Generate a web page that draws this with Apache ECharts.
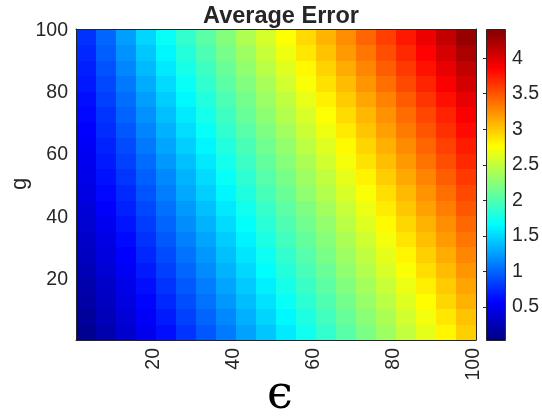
<!DOCTYPE html>
<html>
<head>
<meta charset="utf-8">
<script src="https://cdn.jsdelivr.net/npm/echarts@6/dist/echarts.min.js"></script>
<style>
  html, body { margin: 0; padding: 0; background: #ffffff; }
  #chart { width: 542px; height: 417px; }
</style>
</head>
<body>
<div id="chart"></div>
<script>
// Average error on a grid of (epsilon, g) blocks; each block spans 5 integer steps.
const epsilonBlockStart = [1, 6, 11, 16, 21, 26, 31, 36, 41, 46, 51, 56, 61, 66, 71, 76, 81, 86, 91, 96];
const gBlockStart = [1, 6, 11, 16, 21, 26, 31, 36, 41, 46, 51, 56, 61, 66, 71, 76, 81, 86, 91, 96];
const blockSpan = 5;

// avgError[i][j]: epsilon block i, g block j (g ascending)
const avgError = [
  [0.11,0.15,0.19,0.23,0.27,0.31,0.35,0.38,0.42,0.46,0.49,0.52,0.55,0.58,0.61,0.64,0.68,0.71,0.75,0.79],
  [0.24,0.28,0.31,0.35,0.39,0.43,0.47,0.52,0.57,0.61,0.65,0.69,0.73,0.77,0.80,0.85,0.89,0.93,0.98,1.02],
  [0.37,0.41,0.45,0.49,0.53,0.58,0.62,0.67,0.72,0.76,0.81,0.86,0.90,0.95,1.00,1.05,1.10,1.16,1.21,1.26],
  [0.50,0.55,0.60,0.64,0.69,0.74,0.79,0.84,0.89,0.94,0.99,1.04,1.10,1.15,1.20,1.26,1.32,1.38,1.44,1.50],
  [0.64,0.69,0.75,0.80,0.85,0.90,0.96,1.01,1.06,1.12,1.17,1.23,1.29,1.34,1.40,1.46,1.52,1.58,1.64,1.71],
  [0.80,0.86,0.91,0.96,1.02,1.07,1.13,1.19,1.24,1.30,1.35,1.41,1.47,1.53,1.59,1.65,1.71,1.77,1.83,1.89],
  [0.95,1.01,1.07,1.12,1.18,1.23,1.29,1.35,1.41,1.47,1.52,1.58,1.64,1.70,1.76,1.82,1.88,1.94,2.00,2.06],
  [1.11,1.17,1.23,1.29,1.35,1.40,1.46,1.52,1.58,1.64,1.70,1.76,1.82,1.88,1.94,2.00,2.06,2.12,2.18,2.24],
  [1.27,1.33,1.39,1.45,1.51,1.57,1.63,1.69,1.75,1.81,1.87,1.93,1.99,2.05,2.11,2.17,2.23,2.29,2.35,2.42],
  [1.43,1.49,1.55,1.61,1.67,1.73,1.79,1.85,1.91,1.98,2.04,2.10,2.16,2.22,2.28,2.34,2.40,2.47,2.53,2.59],
  [1.59,1.65,1.71,1.77,1.83,1.89,1.95,2.01,2.07,2.13,2.19,2.25,2.31,2.37,2.44,2.50,2.57,2.63,2.70,2.76],
  [1.74,1.80,1.86,1.92,1.98,2.04,2.10,2.16,2.22,2.29,2.35,2.41,2.48,2.54,2.60,2.67,2.74,2.80,2.87,2.93],
  [1.89,1.95,2.01,2.07,2.13,2.19,2.25,2.31,2.37,2.44,2.50,2.57,2.63,2.70,2.76,2.83,2.90,2.96,3.03,3.09],
  [2.05,2.11,2.17,2.23,2.29,2.35,2.41,2.47,2.53,2.60,2.66,2.73,2.79,2.86,2.92,2.99,3.06,3.13,3.20,3.26],
  [2.20,2.26,2.32,2.38,2.44,2.50,2.56,2.63,2.69,2.75,2.82,2.89,2.95,3.02,3.08,3.15,3.22,3.29,3.36,3.43],
  [2.35,2.41,2.47,2.53,2.60,2.66,2.72,2.79,2.85,2.91,2.98,3.05,3.11,3.18,3.24,3.31,3.39,3.46,3.53,3.60],
  [2.51,2.57,2.63,2.69,2.75,2.81,2.88,2.94,3.01,3.07,3.14,3.21,3.27,3.34,3.40,3.47,3.55,3.62,3.69,3.76],
  [2.66,2.72,2.78,2.84,2.91,2.97,3.04,3.10,3.17,3.23,3.30,3.37,3.43,3.50,3.56,3.64,3.71,3.79,3.86,3.94],
  [2.81,2.87,2.94,3.00,3.06,3.13,3.20,3.26,3.33,3.39,3.46,3.53,3.59,3.66,3.72,3.80,3.88,3.96,4.04,4.12],
  [2.97,3.03,3.10,3.16,3.22,3.29,3.36,3.42,3.49,3.55,3.62,3.69,3.75,3.82,3.88,3.96,4.05,4.13,4.22,4.31]
];

const xTickValues = [20, 40, 60, 80, 100];
const yTickValues = [20, 40, 60, 80, 100];
const colorbarTickValues = [0.5, 1, 1.5, 2, 2.5, 3, 3.5, 4];
const colorLimits = [0.036, 4.41];

// jet colormap, evenly spaced stops
const jet = ['#000080', '#0000ff', '#0080ff', '#00ffff', '#80ff80', '#ffff00', '#ff8000', '#ff0000', '#800000'];

const textColor = '#262626';
const sans = 'Liberation Sans, Arial, Helvetica, sans-serif';

const cells = [];
epsilonBlockStart.forEach((e0, i) => {
  gBlockStart.forEach((g0, j) => {
    cells.push([e0 - 0.5, e0 + blockSpan - 0.5, g0 - 0.5, g0 + blockSpan - 0.5, avgError[i][j]]);
  });
});

const chart = echarts.init(document.getElementById('chart'), null, { renderer: 'canvas' });

const frameAxis = {
  axisLine: { show: true, lineStyle: { color: textColor, width: 1 } },
  axisTick: { show: false },
  axisLabel: { show: false },
  splitLine: { show: false },
  z: 10
};

chart.setOption({
  animation: false,
  backgroundColor: '#ffffff',
  title: {
    text: 'Average Error',
    left: 276,
    top: 0,
    textAlign: 'center',
    textStyle: { fontFamily: sans, fontSize: 23.5, fontWeight: 'bold', color: textColor }
  },
  grid: [
    { left: 76, top: 29, width: 400, height: 311 },
    { left: 486, top: 29, width: 20, height: 311 }
  ],
  xAxis: [
    {
      gridIndex: 0, type: 'value', min: 0.5, max: 100.5, position: 'bottom',
      axisLine: { show: true, lineStyle: { color: textColor, width: 1 } },
      axisTick: { show: false },
      splitLine: { show: false },
      axisLabel: {
        customValues: xTickValues, rotate: 90, margin: 8,
        fontFamily: sans, fontSize: 19.5, color: textColor
      },
      z: 10
    },
    Object.assign({ gridIndex: 0, type: 'value', min: 0.5, max: 100.5, position: 'top' }, frameAxis),
    { gridIndex: 1, type: 'value', min: 0, max: 1, show: false }
  ],
  yAxis: [
    {
      gridIndex: 0, type: 'value', min: 0.5, max: 100.5, position: 'left',
      axisLine: { show: true, lineStyle: { color: textColor, width: 1 } },
      axisTick: { show: false },
      splitLine: { show: false },
      axisLabel: {
        customValues: yTickValues, margin: 8,
        fontFamily: sans, fontSize: 19.5, color: textColor
      },
      z: 10
    },
    Object.assign({ gridIndex: 0, type: 'value', min: 0.5, max: 100.5, position: 'right' }, frameAxis),
    {
      gridIndex: 1, type: 'value', min: colorLimits[0], max: colorLimits[1], position: 'right',
      axisLine: { show: false },
      splitLine: { show: false },
      axisTick: { show: true, inside: true, length: 3, customValues: colorbarTickValues, lineStyle: { color: textColor } },
      axisLabel: {
        customValues: colorbarTickValues, margin: 7,
        fontFamily: sans, fontSize: 19.5, color: textColor
      },
      z: 10
    }
  ],
  visualMap: {
    type: 'continuous',
    show: false,
    seriesIndex: 0,
    dimension: 4,
    min: colorLimits[0],
    max: colorLimits[1],
    inRange: { color: jet }
  },
  series: [
    {
      type: 'custom',
      xAxisIndex: 0,
      yAxisIndex: 0,
      data: cells,
      encode: { x: [0, 1], y: [2, 3] },
      renderItem: function (params, api) {
        const p0 = api.coord([api.value(0), api.value(2)]);
        const p1 = api.coord([api.value(1), api.value(3)]);
        const x0 = Math.floor(p0[0]);
        const x1 = Math.ceil(p1[0]);
        const yTop = Math.floor(p1[1]);
        const yBot = Math.ceil(p0[1]);
        return {
          type: 'rect',
          shape: { x: x0, y: yTop, width: x1 - x0, height: yBot - yTop },
          style: { fill: api.visual('color'), stroke: null }
        };
      }
    },
    {
      type: 'custom',
      xAxisIndex: 2,
      yAxisIndex: 2,
      data: [[0, 1, colorLimits[0], colorLimits[1]]],
      encode: { x: [0, 1], y: [2, 3] },
      renderItem: function (params, api) {
        const p0 = api.coord([api.value(0), api.value(2)]);
        const p1 = api.coord([api.value(1), api.value(3)]);
        const stops = jet.map((c, k) => ({ offset: k / (jet.length - 1), color: c }));
        return {
          type: 'rect',
          shape: { x: p0[0] + 0.5, y: p1[1] + 0.5, width: p1[0] - p0[0], height: p0[1] - p1[1] },
          style: {
            fill: new echarts.graphic.LinearGradient(0, 1, 0, 0, stops),
            stroke: textColor,
            lineWidth: 1
          }
        };
      }
    }
  ],
  graphic: [
    {
      type: 'text',
      x: 20, y: 184,
      rotation: Math.PI / 2,
      style: {
        text: 'g', fontFamily: sans, fontSize: 22, fill: textColor,
        align: 'center', verticalAlign: 'middle'
      }
    },
    {
      type: 'text',
      x: 280, y: 396,
      style: {
        text: '\u03f5', fontFamily: 'DejaVu Serif, serif', fontSize: 46, fill: '#000000',
        align: 'center', verticalAlign: 'middle'
      }
    }
  ]
});
</script>
</body>
</html>
